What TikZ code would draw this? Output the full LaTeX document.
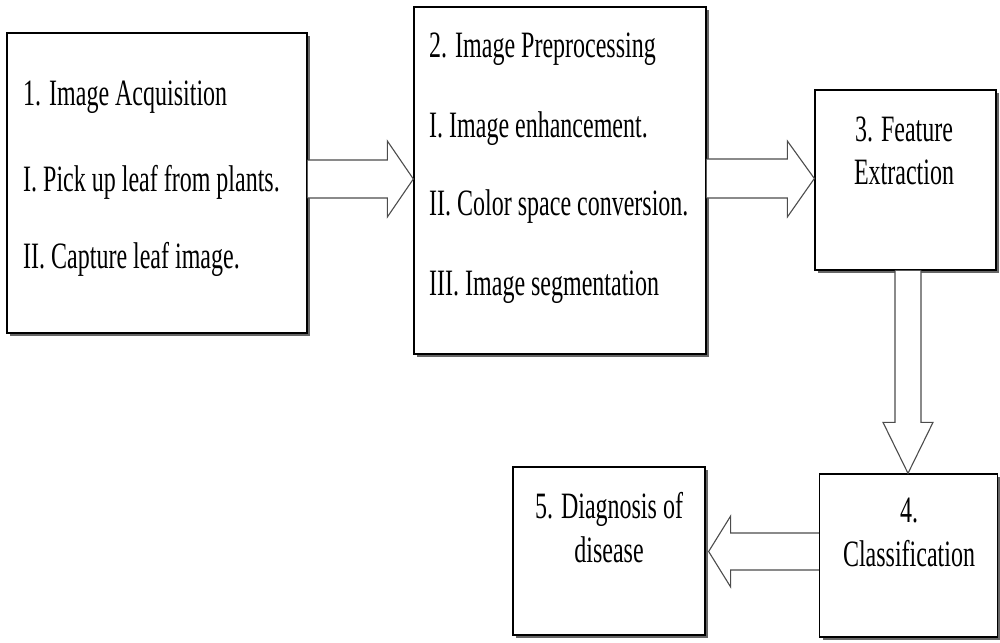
\documentclass[tikz,border=0pt]{standalone}
\usepackage{fontspec}
\setmainfont{Liberation Serif}
\newfontfamily\tms{Liberation Serif}
\usetikzlibrary{shadows,calc}
\newcommand{\vs}[1]{\scalebox{1}[1.55]{#1}}
\begin{document}
\begin{tikzpicture}[x=1pt,y=-1pt,
  box/.style={draw=black,line width=1.3pt,fill=white,inner sep=0pt,
    drop shadow={shadow xshift=3pt,shadow yshift=-3pt,fill=black!60,opacity=1}},
  txt/.style={inner sep=0pt,font=\tms\fontsize{24}{28}\selectfont},
  blk/.style={draw=black!70,line width=1.1pt,fill=white,line join=miter}]
\useasboundingbox (0,0) rectangle (1000,642);
% boxes
\node[box,minimum width=300pt,minimum height=300pt] (b1) at (157,183) {};
\node[box,minimum width=292pt,minimum height=347pt] (b2) at (560,180.5) {};
\node[box,minimum width=181pt,minimum height=180pt] (b3) at (905.5,180) {};
\node[box,minimum width=178pt,minimum height=163pt] (b4) at (908.5,555.5) {};
\node[box,minimum width=192pt,minimum height=168pt] (b5) at (609,551) {};
% texts
\node[txt,anchor=base west] (t11) at (23,105) {\vs{1. Image Acquisition}};
\node[txt,anchor=base west] (t12) at (23,191) {\vs{I. Pick up leaf from plants.}};
\node[txt,anchor=base west] (t13) at (23,268) {\vs{II. Capture leaf image.}};
\node[txt,anchor=base west] (t21) at (429,57) {\vs{2. Image Preprocessing}};
\node[txt,anchor=base west] (t22) at (429,137) {\vs{I. Image enhancement.}};
\node[txt,anchor=base west] (t23) at (429,215) {\vs{II. Color space conversion.}};
\node[txt,anchor=base west] (t24) at (429,295) {\vs{III. Image segmentation}};
\node[txt,anchor=base] (t31) at (904,141) {\vs{3. Feature}};
\node[txt,anchor=base] (t32) at (904,184) {\vs{Extraction}};
\node[txt,anchor=base] (t41) at (909,522) {\vs{4.}};
\node[txt,anchor=base] (t42) at (909,566) {\vs{Classification}};
\node[txt,anchor=base] (t51) at (609,518) {\vs{5. Diagnosis of}};
\node[txt,anchor=base] (t52) at (609,562) {\vs{disease}};
% block arrows
\coordinate (a1s) at (b1.east |- 0,179);
\coordinate (a1t) at (b2.west |- 0,179);
\draw[blk] ($(a1s)+(0,-19)$) -- ($(a1t)+(-26,-19)$) -- ($(a1t)+(-26,-38)$) -- (a1t)
  -- ($(a1t)+(-26,38)$) -- ($(a1t)+(-26,19)$) -- ($(a1s)+(0,19)$);
\coordinate (a2s) at (b2.east |- 0,178.5);
\coordinate (a2t) at (b3.west |- 0,178.5);
\draw[blk] ($(a2s)+(0,-19.5)$) -- ($(a2t)+(-27,-19.5)$) -- ($(a2t)+(-27,-37.5)$) -- (a2t)
  -- ($(a2t)+(-27,38.5)$) -- ($(a2t)+(-27,19.5)$) -- ($(a2s)+(0,19.5)$);
\coordinate (a3s) at (b3.south -| 908,0);
\coordinate (a3t) at (b4.north -| 908,0);
\draw[blk] ($(a3s)+(-13,0)$) -- ($(a3t)+(-13,-51)$) -- ($(a3t)+(-25,-51)$) -- (a3t)
  -- ($(a3t)+(25,-51)$) -- ($(a3t)+(13,-51)$) -- ($(a3s)+(13,0)$);
\coordinate (a4s) at (b4.west |- 0,551.5);
\coordinate (a4t) at (b5.east |- 0,551.5);
\draw[blk] ($(a4s)+(0,-18.5)$) -- ($(a4t)+(25,-18.5)$) -- ($(a4t)+(25,-35.5)$) -- ($(a4t)+(3,0)$)
  -- ($(a4t)+(25,35.5)$) -- ($(a4t)+(25,18.5)$) -- ($(a4s)+(0,18.5)$);
\end{tikzpicture}
\end{document}
